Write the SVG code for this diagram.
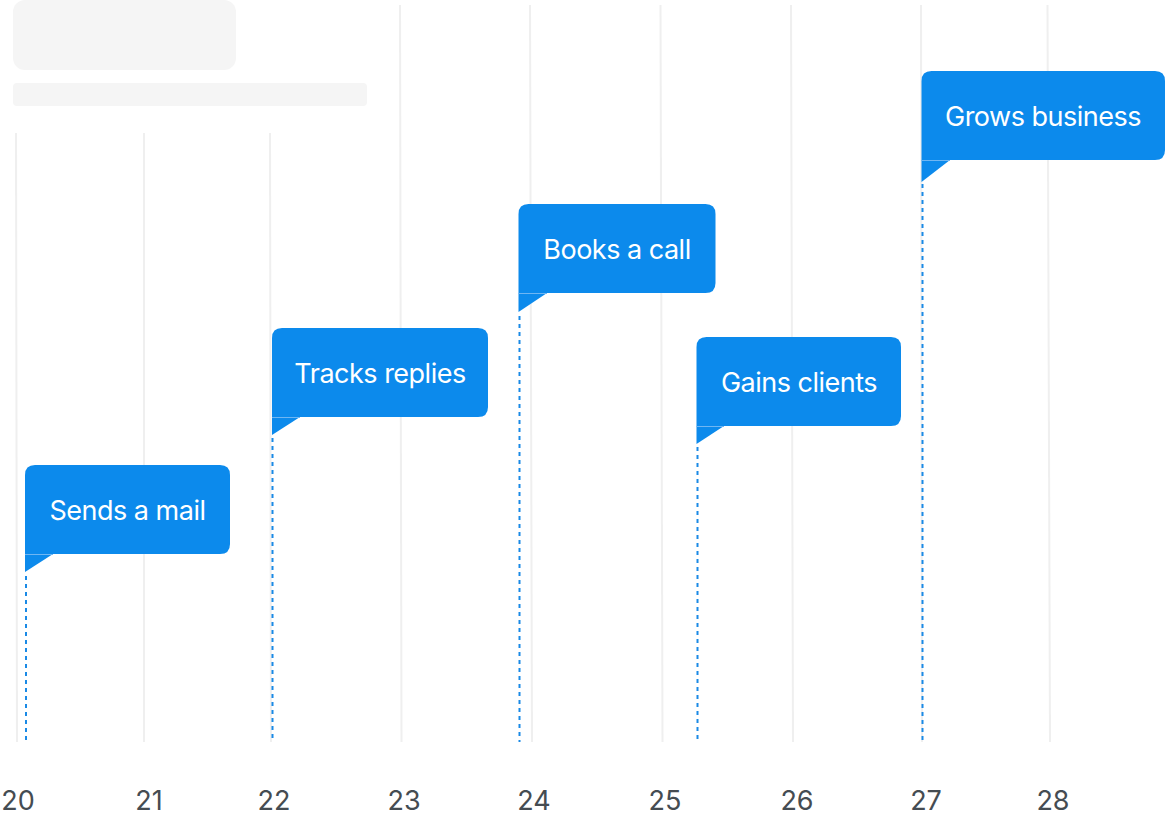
<svg xmlns="http://www.w3.org/2000/svg" width="1166" height="821" viewBox="0 0 1166 821">
<style>
.grid{stroke:#efefef;stroke-width:2;fill:none}
.stem{stroke:#1a8ae6;stroke-width:2;stroke-dasharray:4 4;fill:none}
.flag{fill:#0c8aec}
.seam{stroke:#6fb6f3;stroke-width:1}
.lbl{font-family:Inter,"Liberation Sans",sans-serif;font-size:27px;fill:#ffffff;text-anchor:middle;letter-spacing:-0.5px}
.axis{font-family:Inter,"Liberation Sans",sans-serif;font-size:27px;fill:#454c52;text-anchor:middle}
.ph{fill:#f5f5f5}
</style>
<rect width="1166" height="821" fill="#ffffff"/>
<g id="placeholder">
<rect class="ph" x="13" y="0" width="223" height="70" rx="12"/>
<rect class="ph" x="13" y="83" width="354" height="23" rx="4"/>
</g>
<g id="grid">
<line class="grid" x1="16" y1="133" x2="17" y2="742"/>
<line class="grid" x1="144" y1="133" x2="144" y2="742"/>
<line class="grid" x1="270" y1="133" x2="271" y2="742"/>
<line class="grid" x1="400" y1="5" x2="401.5" y2="742"/>
<line class="grid" x1="530" y1="5" x2="532" y2="742"/>
<line class="grid" x1="660.5" y1="5" x2="662.5" y2="742"/>
<line class="grid" x1="791" y1="5" x2="793" y2="742"/>
<line class="grid" x1="921" y1="5" x2="922" y2="742"/>
<line class="grid" x1="1047.5" y1="5" x2="1050" y2="742"/>
</g>
<g id="connectors">
<line class="stem" x1="26" y1="576" x2="26" y2="742"/>
<line class="stem" x1="272.5" y1="438" x2="272.5" y2="742"/>
<line class="stem" x1="519.5" y1="316" x2="519.5" y2="742"/>
<line class="stem" x1="697.5" y1="447" x2="697.5" y2="742"/>
<line class="stem" x1="922.5" y1="184" x2="922.5" y2="742"/>
</g>
<g id="flag-sends">
<path class="flag" d="M25 554 V475 Q25 465 35 465 H220 Q230 465 230 475 V544 Q230 554 220 554 Z"/>
<path class="flag" d="M25 554 H53 L25 572 Z"/>
<line class="seam" x1="25" y1="554.5" x2="53" y2="554.5"/>
<text class="lbl" x="127.5" y="520">Sends a mail</text>
</g>
<g id="flag-tracks">
<path class="flag" d="M272 417 V338 Q272 328 282 328 H478 Q488 328 488 338 V407 Q488 417 478 417 Z"/>
<path class="flag" d="M272 417 H300 L272 435 Z"/>
<line class="seam" x1="272" y1="417.5" x2="300" y2="417.5"/>
<text class="lbl" x="380" y="383">Tracks replies</text>
</g>
<g id="flag-books">
<path class="flag" d="M518.5 293 V214 Q518.5 204 528.5 204 H705.5 Q715.5 204 715.5 214 V283 Q715.5 293 705.5 293 Z"/>
<path class="flag" d="M518.5 293 H547 L518.5 312 Z"/>
<line class="seam" x1="518.5" y1="293.5" x2="547" y2="293.5"/>
<text class="lbl" x="617" y="259">Books a call</text>
</g>
<g id="flag-gains">
<path class="flag" d="M696.5 426 V347 Q696.5 337 706.5 337 H891 Q901 337 901 347 V416 Q901 426 891 426 Z"/>
<path class="flag" d="M696.5 426 H724 L696.5 444 Z"/>
<line class="seam" x1="696.5" y1="426.5" x2="724" y2="426.5"/>
<text class="lbl" x="799" y="392">Gains clients</text>
</g>
<g id="flag-grows">
<path class="flag" d="M921.5 160 V81 Q921.5 71 931.5 71 H1155 Q1165 71 1165 81 V150 Q1165 160 1155 160 Z"/>
<path class="flag" d="M921.5 160 H950 L921.5 182 Z"/>
<line class="seam" x1="921.5" y1="160.5" x2="950" y2="160.5"/>
<text class="lbl" x="1043" y="126">Grows business</text>
</g>
<g id="axis">
<text class="axis" x="18" y="810">20</text>
<text class="axis" x="149" y="810">21</text>
<text class="axis" x="274" y="810">22</text>
<text class="axis" x="404" y="810">23</text>
<text class="axis" x="534" y="810">24</text>
<text class="axis" x="665" y="810">25</text>
<text class="axis" x="797" y="810">26</text>
<text class="axis" x="926" y="810">27</text>
<text class="axis" x="1053" y="810">28</text>
</g>
</svg>
